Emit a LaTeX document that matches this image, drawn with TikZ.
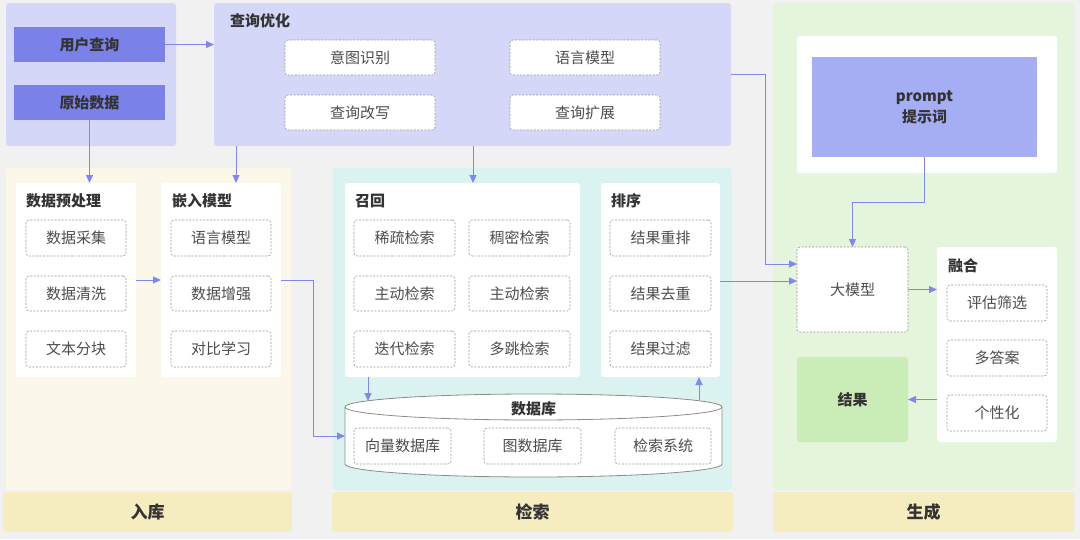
\documentclass[tikz,border=0pt]{standalone}
\usepackage{fontspec}
\setmainfont{Noto Sans CJK SC}
\usetikzlibrary{arrows.meta,calc}
\definecolor{bgc}{HTML}{F1F1F1}
\definecolor{lavc}{HTML}{D4D7F8}
\definecolor{bluec}{HTML}{7A82EA}
\definecolor{creamc}{HTML}{FBF8E9}
\definecolor{tanc}{HTML}{F5ECC0}
\definecolor{cyanc}{HTML}{DAF3F1}
\definecolor{greenc}{HTML}{E4F5DC}
\definecolor{promptc}{HTML}{A5AEF2}
\definecolor{resc}{HTML}{CAEDB8}
\definecolor{arrc}{HTML}{8088F0}
\definecolor{darkc}{HTML}{333333}
\definecolor{txtc}{HTML}{4D4D4D}
\definecolor{dashc}{HTML}{9A9A9A}
\begin{document}
\begin{tikzpicture}[x=1pt,y=-1pt,
  panel/.style={rectangle, rounded corners=3pt, draw=none, inner sep=0pt, outer sep=0pt},
  sub/.style={rectangle, rounded corners=3pt, fill=white, draw=dashc, dash pattern=on 2pt off 1.5pt, line width=0.6pt, text=txtc, font=\fontsize{15}{18}\selectfont, inner sep=0pt, outer sep=0pt},
  ttl/.style={anchor=west, font=\fontsize{15}{18}\selectfont\bfseries, text=darkc, inner sep=0pt},
  barlbl/.style={panel, fill=tanc, font=\fontsize{17}{20}\selectfont\bfseries, text=darkc},
  conn/.style={draw=arrc, line width=1pt, -{Triangle[length=8pt,width=7pt]}}
]
\fill[bgc] (0,0) rectangle (1080,539);
\useasboundingbox (0,0) rectangle (1080,539);

% columns and bars
\node[panel, fill=creamc, minimum width=285, minimum height=322] (colA) at (148.5,329) {};
\node[barlbl, minimum width=289, minimum height=40] (barA) at (147.5,512) {入库};
\node[panel, fill=cyanc, minimum width=399, minimum height=322] (colB) at (532,329) {};
\node[barlbl, minimum width=401, minimum height=40] (barB) at (532.5,512) {检索};
\node[panel, fill=greenc, minimum width=301, minimum height=487] (colC) at (923.5,246.5) {};
\node[barlbl, minimum width=301, minimum height=40] (barC) at (923.5,512) {生成};

% top left
\node[panel, fill=lavc, minimum width=170, minimum height=143] (lt) at (91,74.5) {};
\node[panel, rounded corners=0pt, fill=bluec, minimum width=151, minimum height=35, font=\fontsize{15}{18}\selectfont\bfseries, text=darkc] (uq) at (89.5,44.5) {用户查询};
\node[panel, rounded corners=0pt, fill=bluec, minimum width=151, minimum height=35, font=\fontsize{15}{18}\selectfont\bfseries, text=darkc] (raw) at (89.5,102.5) {原始数据};

% query optimisation
\node[panel, fill=lavc, minimum width=517, minimum height=143] (qopt) at (472.5,74.5) {};
\node[ttl] (qoptt) at (230,21) {查询优化};
\node[sub, minimum width=150, minimum height=35] (q1) at (360,57.5) {意图识别};
\node[sub, minimum width=150, minimum height=35] (q2) at (585,57.5) {语言模型};
\node[sub, minimum width=150, minimum height=35] (q3) at (360,112.5) {查询改写};
\node[sub, minimum width=150, minimum height=35] (q4) at (585,112.5) {查询扩展};

% ingest
\node[panel, fill=white, minimum width=120, minimum height=194] (pre) at (76,280) {};
\node[ttl] at (26,201) {数据预处理};
\node[sub, minimum width=100, minimum height=36] (p1) at (76,238) {数据采集};
\node[sub, minimum width=100, minimum height=35] (p2) at (76,293.5) {数据清洗};
\node[sub, minimum width=100, minimum height=36] (p3) at (76,349) {文本分块};
\node[panel, fill=white, minimum width=120, minimum height=194] (emb) at (221,280) {};
\node[ttl] at (172,201) {嵌入模型};
\node[sub, minimum width=100, minimum height=36] (e1) at (221,238) {语言模型};
\node[sub, minimum width=100, minimum height=35] (e2) at (221,293.5) {数据增强};
\node[sub, minimum width=100, minimum height=36] (e3) at (221,349) {对比学习};

% retrieval
\node[panel, fill=white, minimum width=235, minimum height=194] (recall) at (462.5,280) {};
\node[ttl] at (355,201) {召回};
\node[sub, minimum width=101, minimum height=36] (r1) at (404.5,238) {稀疏检索};
\node[sub, minimum width=101, minimum height=36] (r2) at (519.5,238) {稠密检索};
\node[sub, minimum width=101, minimum height=35] (r3) at (404.5,293.5) {主动检索};
\node[sub, minimum width=101, minimum height=35] (r4) at (519.5,293.5) {主动检索};
\node[sub, minimum width=101, minimum height=36] (r5) at (404.5,349) {迭代检索};
\node[sub, minimum width=101, minimum height=36] (r6) at (519.5,349) {多跳检索};
\node[panel, fill=white, minimum width=119, minimum height=194] (sort) at (660.5,280) {};
\node[ttl] at (611,201) {排序};
\node[sub, minimum width=101, minimum height=36] (s1) at (660.5,238) {结果重排};
\node[sub, minimum width=101, minimum height=35] (s2) at (660.5,293.5) {结果去重};
\node[sub, minimum width=101, minimum height=36] (s3) at (660.5,349) {结果过滤};

% database cylinder
\filldraw[fill=white, draw=dashc!90!black, line width=0.8pt]
  (345,407) -- (345,464) arc[start angle=180, end angle=0, x radius=188.5, y radius=13]
  -- (722,407) arc[start angle=0, end angle=-180, x radius=188.5, y radius=13] -- cycle;
\draw[dashc!90!black, line width=0.8pt] (345,407) arc[start angle=180, end angle=0, x radius=188.5, y radius=13];
\node[font=\fontsize{15}{18}\selectfont\bfseries, text=darkc, inner sep=0pt] (db) at (533.5,409) {数据库};
\node[sub, minimum width=97, minimum height=36] (d1) at (402.5,446) {向量数据库};
\node[sub, minimum width=97, minimum height=36] (d2) at (532.5,446) {图数据库};
\node[sub, minimum width=96, minimum height=36] (d3) at (663,446) {检索系统};
\coordinate (dbL) at (345,436);
\coordinate (dbTa) at (368,401);
\coordinate (dbTb) at (699,401);

% generation
\node[panel, fill=white, minimum width=260, minimum height=137] (pout) at (927,104.5) {};
\node[panel, rounded corners=0pt, fill=promptc, minimum width=225, minimum height=100, align=center, font=\fontsize{15}{21}\selectfont\bfseries, text=darkc] (prompt) at (924.5,107) {prompt\\提示词};
\node[sub, minimum width=111, minimum height=85] (llm) at (852.5,289.5) {大模型};
\node[panel, fill=white, minimum width=120, minimum height=195] (fuse) at (997,344.5) {};
\node[ttl] at (948,266) {融合};
\node[sub, minimum width=100, minimum height=36] (f1) at (997,303) {评估筛选};
\node[sub, minimum width=100, minimum height=36] (f2) at (997,358) {多答案};
\node[sub, minimum width=100, minimum height=36] (f3) at (997,413) {个性化};
\node[panel, fill=resc, minimum width=111, minimum height=85, font=\fontsize{15}{18}\selectfont\bfseries, text=darkc] (res) at (852.5,399.5) {结果};

% connectors
\draw[conn] (uq.east) -- (uq.east -| qopt.west);
\draw[conn] (raw.south) -- (raw.south |- pre.north);
\coordinate (qa) at (236,146);
\coordinate (qb) at (473,146);
\coordinate (qc) at (731,74);
\draw[conn] (qa) -- (qa |- emb.north);
\draw[conn] (qb) -- (qb |- recall.north);
\draw[conn] (pre.east) -- (emb.west);
\draw[conn] (emb.east) -- ++(32,0) |- (dbL);
\draw[conn] (dbTa |- recall.south) -- (dbTa);
\draw[conn] (dbTb) -- (dbTb |- sort.south);
\draw[conn] (sort.east |- 0,281) -- (llm.west |- 0,281);
\draw[conn] (qc) -- ++(34,0) |- ($(llm.west)+(0,-25.5)$);
\draw[conn] (prompt.south) -- ++(0,45) -| (llm.north);
\draw[conn] (llm.east) -- (llm.east -| fuse.west);
\draw[conn] (res.east -| fuse.west) -- (res.east);
\end{tikzpicture}
\end{document}
